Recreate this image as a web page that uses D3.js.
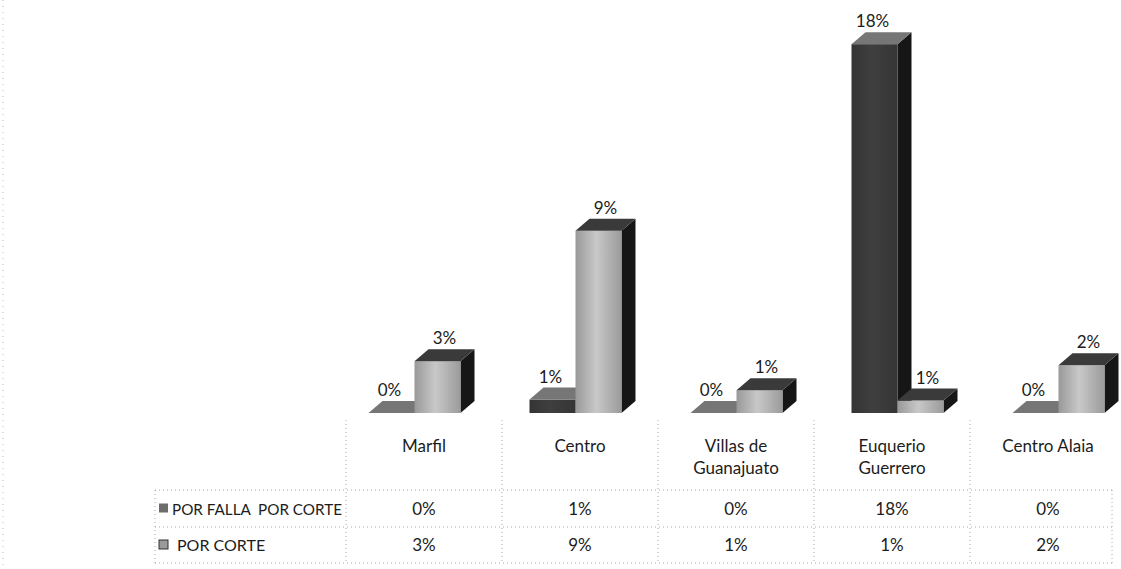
<!DOCTYPE html>
<html>
<head>
<meta charset="utf-8">
<script src="https://cdn.jsdelivr.net/npm/d3@7"></script>
<style>
  html, body { margin: 0; padding: 0; background: #fff; }
  svg { display: block; }
  text { font-family: Lato, "Open Sans", "DejaVu Sans", sans-serif; fill: #1c1c1c; }
</style>
</head>
<body>
<svg id="chart" width="1121" height="569"></svg>
<script>
// ---- data ----
const categories = ["Marfil", "Centro", "Villas de Guanajuato", "Euquerio Guerrero", "Centro Alaia"];
const seriesNames = ["POR FALLA  POR CORTE", "POR CORTE"];
const porFallaPorCorte = [0.000, 0.0065, 0.000, 0.178, 0.000];
const porCorte = [0.025, 0.088, 0.011, 0.006, 0.023];
const seriesValues = [porFallaPorCorte, porCorte];

// ---- styles ----
const faceColors = [
  { front: "#3a3a3a", top: "#767676", side: "#161616" },
  { front: "#aaaaaa", top: "#3a3a3a", side: "#161616" }
];
const fmt = d3.format(".0%");

const svg = d3.select("#chart");
const W = 1121, H = 569;

// scales
const x = d3.scaleBand().domain(categories).range([334, 1139]).padding(0);   // bars
const xt = d3.scaleBand().domain(categories).range([346, 1126]).padding(0);  // data table
const y = d3.scaleLinear().domain([0, 0.18]).range([413, 40]);
const barW = 46;
const xs = d3.scaleBand().domain([0, 1]).range([-barW, barW]);
const dx = 14, dy = 12;

// gradients for front faces
const defs = svg.append("defs");
faceColors.forEach((c, i) => {
  const gr = defs.append("linearGradient").attr("id", "fg" + i).attr("x1", 0).attr("x2", 1).attr("y1", 0).attr("y2", 0);
  const base = d3.color(c.front);
  gr.append("stop").attr("offset", "0%").attr("stop-color", base.darker(0.3));
  gr.append("stop").attr("offset", "45%").attr("stop-color", base.brighter(i === 1 ? 0.45 : 0.25));
  gr.append("stop").attr("offset", "100%").attr("stop-color", base.darker(0.25));
});

// faint outer border (scan frame)
svg.append("line").attr("x1", 3).attr("x2", 3).attr("y1", 0).attr("y2", H)
  .attr("stroke", "#bbb").attr("stroke-dasharray", "1,5");

// ---- bars ----
const gBars = svg.append("g");
categories.forEach((cat, ci) => {
  const cx = x(cat) + x.bandwidth() / 2;
  seriesValues.forEach((vals, si) => {
    const v = vals[ci];
    const x0 = cx + xs(si);
    const yTop = y(v), yBase = y(0);
    const c = faceColors[si];
    const g = gBars.append("g");
    g.append("polygon")
      .attr("points", [[x0 + barW, yTop], [x0 + barW + dx, yTop - dy], [x0 + barW + dx, yBase - dy], [x0 + barW, yBase]].map(p => p.join(",")).join(" "))
      .attr("fill", c.side);
    g.append("rect").attr("x", x0).attr("y", yTop).attr("width", barW).attr("height", Math.max(0, yBase - yTop))
      .attr("fill", `url(#fg${si})`);
    g.append("polygon")
      .attr("points", [[x0, yTop], [x0 + barW, yTop], [x0 + barW + dx, yTop - dy], [x0 + dx, yTop - dy]].map(p => p.join(",")).join(" "))
      .attr("fill", c.top);
  });
});

// data labels
const gLab = svg.append("g");
categories.forEach((cat, ci) => {
  const cx = x(cat) + x.bandwidth() / 2;
  seriesValues.forEach((vals, si) => {
    const v = vals[ci];
    const x0 = cx + xs(si);
    gLab.append("text")
      .attr("x", x0 + barW / 2 + dx / 2 + (si === 0 ? -9 : 0))
      .attr("y", y(v) - dy - 5)
      .attr("text-anchor", "middle")
      .attr("font-size", 17)
      .text(fmt(v));
  });
});

// ---- data table ----
const tLeft = 155, tRight = 1112;
const rowHeaderTop = 420, row1Top = 490, row2Top = 527, tBottom = 563;
const gT = svg.append("g");
const lineStyle = sel => sel.attr("stroke", "#a8a8a8").attr("stroke-width", 1).attr("stroke-dasharray", "1,3");

[row1Top, row2Top, tBottom].forEach(yy => {
  gT.append("line").attr("x1", tLeft).attr("x2", tRight).attr("y1", yy).attr("y2", yy).call(lineStyle);
});
const vx = [xt.range()[0]].concat(categories.slice(1).map(c => xt(c)));
vx.forEach(xx => {
  gT.append("line").attr("x1", xx).attr("x2", xx).attr("y1", rowHeaderTop).attr("y2", tBottom).call(lineStyle);
});
gT.append("line").attr("x1", tLeft).attr("x2", tLeft).attr("y1", row1Top).attr("y2", tBottom).call(lineStyle);
gT.append("line").attr("x1", tRight).attr("x2", tRight).attr("y1", row1Top).attr("y2", tBottom).call(lineStyle);

// category header (wrapped)
categories.forEach(cat => {
  const cx = xt(cat) + xt.bandwidth() / 2;
  const t = gT.append("text").attr("x", cx).attr("y", 452).attr("text-anchor", "middle").attr("font-size", 17);
  const words = cat.split(" ");
  let line = [], lines = [];
  const probe = t.append("tspan");
  words.forEach(w => {
    const test = line.concat(w).join(" ");
    probe.text(test);
    if (probe.node().getComputedTextLength() > 112 && line.length) { lines.push(line.join(" ")); line = [w]; }
    else line.push(w);
  });
  lines.push(line.join(" "));
  probe.remove();
  lines.forEach((l, i) => t.append("tspan").attr("x", cx).attr("dy", i === 0 ? 0 : 22).text(l));
});

// rows
const rowsY = [(row1Top + row2Top) / 2, (row2Top + tBottom) / 2];
seriesNames.forEach((name, si) => {
  const yy = rowsY[si];
  gT.append("rect").attr("x", 159).attr("y", yy - 5).attr("width", 9).attr("height", 9)
    .attr("fill", si === 0 ? "#6d6d6d" : "#9a9a9a").attr("stroke", si === 1 ? "#333" : "none").attr("stroke-width", 1);
  const tx = si === 0 ? 172 : 177;
  const lt = gT.append("text").attr("x", tx).attr("y", yy + 6).attr("font-size", 16)
    .style("white-space", "pre").text(name);
  const maxLen = xt.range()[0] - 4 - tx;
  if (lt.node().getComputedTextLength() > maxLen) {
    lt.attr("textLength", maxLen).attr("lengthAdjust", "spacingAndGlyphs");
  }
  categories.forEach((cat, ci) => {
    gT.append("text").attr("x", xt(cat) + xt.bandwidth() / 2).attr("y", yy + 6)
      .attr("text-anchor", "middle").attr("font-size", 17).text(fmt(seriesValues[si][ci]));
  });
});
</script>
</body>
</html>
